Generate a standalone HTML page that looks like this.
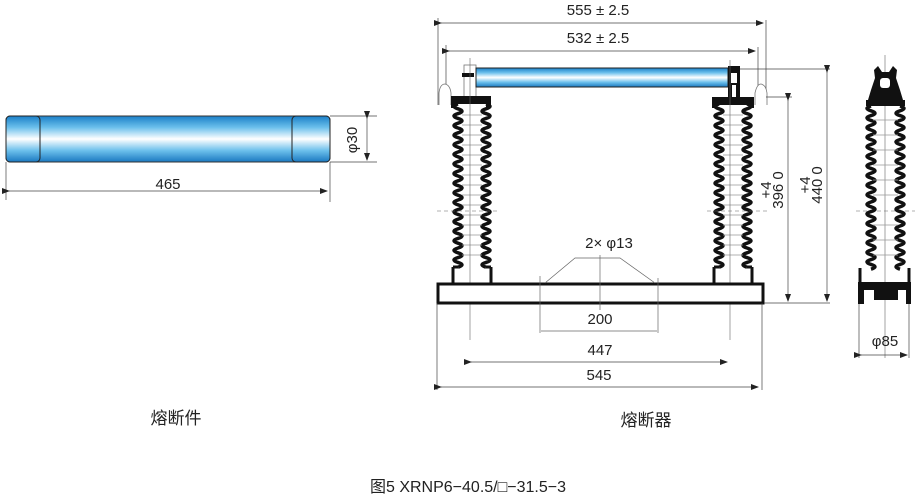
<!DOCTYPE html>
<html><head><meta charset="utf-8"><style>
html,body{margin:0;padding:0;background:#fff}
svg{display:block}
text{font-family:"Liberation Sans","Noto Sans CJK SC",sans-serif;fill:#222}
</style></head><body>
<svg width="917" height="498" viewBox="0 0 917 498" xmlns="http://www.w3.org/2000/svg">
<defs>
<linearGradient id="g" x1="0" y1="0" x2="0" y2="1">
<stop offset="0" stop-color="#1a7fc8"/><stop offset="0.25" stop-color="#6cc0ec"/><stop offset="0.5" stop-color="#ffffff"/><stop offset="0.75" stop-color="#6cc0ec"/><stop offset="1" stop-color="#1a78c0"/>
</linearGradient>
<marker id="a" markerWidth="8" markerHeight="6" refX="7" refY="3" orient="auto" markerUnits="userSpaceOnUse"><path d="M0,0 L8,3 L0,6z" fill="#222"/></marker>
<path id="wv" d="M0 0 q-8 2.4 0 4.8q8 2.4 0 4.8q-8 2.4 0 4.8q8 2.4 0 4.8q-8 2.4 0 4.8q8 2.4 0 4.8q-8 2.4 0 4.8q8 2.4 0 4.8q-8 2.4 0 4.8q8 2.4 0 4.8q-8 2.4 0 4.8q8 2.4 0 4.8q-8 2.4 0 4.8q8 2.4 0 4.8q-8 2.4 0 4.8q8 2.4 0 4.8q-8 2.4 0 4.8q8 2.4 0 4.8q-8 2.4 0 4.8q8 2.4 0 4.8q-8 2.4 0 4.8q8 2.4 0 4.8q-8 2.4 0 4.8q8 2.4 0 4.8q-8 2.4 0 4.8q8 2.4 0 4.8q-8 2.4 0 4.8q8 2.4 0 4.8q-8 2.4 0 4.8q8 2.4 0 4.8q-8 2.4 0 4.8q8 2.4 0 4.8q-8 2.4 0 4.8q8 2.4 0 4.8" fill="none" stroke="#111" stroke-width="3.5"/>
<g id="ins">
<use href="#wv" transform="translate(-14,104)"/>
<use href="#wv" transform="translate(14,104) scale(-1,1)"/>
<g stroke="#999" stroke-width="0.7">
<line x1="-10" y1="115" x2="10" y2="115"/><line x1="-10" y1="125" x2="10" y2="125"/><line x1="-10" y1="135" x2="10" y2="135"/><line x1="-10" y1="145" x2="10" y2="145"/><line x1="-10" y1="155" x2="10" y2="155"/><line x1="-10" y1="165" x2="10" y2="165"/><line x1="-10" y1="175" x2="10" y2="175"/><line x1="-10" y1="185" x2="10" y2="185"/><line x1="-10" y1="195" x2="10" y2="195"/><line x1="-10" y1="205" x2="10" y2="205"/><line x1="-10" y1="215" x2="10" y2="215"/><line x1="-10" y1="225" x2="10" y2="225"/><line x1="-10" y1="235" x2="10" y2="235"/><line x1="-10" y1="245" x2="10" y2="245"/><line x1="-10" y1="255" x2="10" y2="255"/>
</g>
<path d="M-19 267 L-19 284 M19 267 L19 284 M-19 267 L-14 267 M19 267 L14 267" stroke="#111" stroke-width="3" fill="none"/>
</g>
</defs>

<rect x="6" y="116" width="324" height="46" rx="4" fill="url(#g)" stroke="#333" stroke-width="1"/>
<rect x="6" y="116" width="34" height="46" rx="4" fill="url(#g)" stroke="#222" stroke-width="1"/>
<rect x="292" y="116" width="38" height="46" rx="4" fill="url(#g)" stroke="#222" stroke-width="1"/>
<g stroke="#444" stroke-width="0.7" fill="none">
<line x1="6" y1="162" x2="6" y2="200"/><line x1="330" y1="162" x2="330" y2="202"/>
<line x1="9" y1="191" x2="327" y2="191" marker-start="url(#a)" marker-end="url(#a)"/>
<line x1="330" y1="116" x2="377" y2="116"/><line x1="330" y1="162" x2="377" y2="162"/>
<line x1="367" y1="118" x2="367" y2="160" marker-start="url(#a)" marker-end="url(#a)"/>
</g>
<text x="168" y="189" font-size="15" text-anchor="middle">465</text>
<text transform="translate(357,140) rotate(-90)" font-size="15" text-anchor="middle">φ30</text>

<g stroke="#444" stroke-width="0.7" fill="none">
<line x1="438" y1="18" x2="438" y2="105"/><line x1="766" y1="20" x2="766" y2="105"/>
<line x1="441" y1="23" x2="763" y2="23" marker-start="url(#a)" marker-end="url(#a)"/>
<line x1="446" y1="45" x2="446" y2="100"/><line x1="758" y1="47" x2="758" y2="90"/>
<line x1="449" y1="51" x2="755" y2="51" marker-start="url(#a)" marker-end="url(#a)"/>
</g>
<text x="598" y="15" font-size="15" text-anchor="middle">555 ± 2.5</text>
<text x="598" y="43" font-size="15" text-anchor="middle">532 ± 2.5</text>

<g stroke="#777" stroke-width="0.8" fill="#fff">
<path d="M439 105 L439 93 Q440 84 445 84 Q450 85 451 93 L451 105"/>
<path d="M755 105 L755 93 Q757 84 761 84 Q766 85 767 93 L767 105"/>
<rect x="464" y="65" width="12" height="32"/>
</g>
<rect x="476" y="68" width="252" height="19" fill="url(#g)" stroke="#222" stroke-width="1"/>
<rect x="462" y="73" width="12" height="4" fill="#111"/>
<rect x="728" y="66" width="12" height="32" fill="#111"/><rect x="731" y="73" width="6" height="10" fill="#fff"/>
<rect x="732" y="85" width="4" height="12" fill="#fff"/>

<path d="M451 96 L491 96 L491 108 L486 108 L486 104 L456 104 L456 108 L451 108 Z" fill="#111"/>
<path d="M712 97 L754 97 L754 108 L749 108 L749 105 L717 105 L717 108 L712 108 Z" fill="#111"/>
<use href="#ins" transform="translate(472,0)"/>
<use href="#ins" transform="translate(733,0)"/>
<g stroke="#666" stroke-width="0.6">
<line x1="470" y1="58" x2="470" y2="340"/><line x1="730" y1="60" x2="730" y2="340"/>
<line x1="437" y1="211" x2="497" y2="211" stroke-dasharray="4 3"/><line x1="707" y1="211" x2="768" y2="211" stroke-dasharray="4 3"/>
<line x1="856" y1="211" x2="915" y2="211" stroke-dasharray="4 3"/>
<line x1="885" y1="55" x2="885" y2="358"/>
</g>
<rect x="438" y="284" width="325" height="19" fill="#fff" stroke="#111" stroke-width="3"/>
<g stroke="#666" stroke-width="0.7" fill="none">
<path d="M545 283 L575 258 L620 258 L655 283"/>
<line x1="600" y1="255" x2="600" y2="310"/>
<line x1="540" y1="276" x2="540" y2="333"/><line x1="658" y1="278" x2="658" y2="333"/>
<line x1="541" y1="331" x2="657" y2="331"/>
</g>
<text x="609" y="248" font-size="15" text-anchor="middle">2× φ13</text>
<text x="600" y="324" font-size="15" text-anchor="middle">200</text>
<g stroke="#444" stroke-width="0.7" fill="none">
<line x1="471" y1="362" x2="727" y2="362" marker-start="url(#a)" marker-end="url(#a)"/>
<line x1="437" y1="303" x2="437" y2="390"/><line x1="762" y1="303" x2="762" y2="390"/>
<line x1="441" y1="387" x2="758" y2="387" marker-start="url(#a)" marker-end="url(#a)"/>
</g>
<text x="600" y="355" font-size="15" text-anchor="middle">447</text>
<text x="599" y="380" font-size="15" text-anchor="middle">545</text>

<g stroke="#444" stroke-width="0.7" fill="none">
<line x1="766" y1="97" x2="792" y2="97"/><line x1="740" y1="69" x2="830" y2="69"/>
<line x1="764" y1="303" x2="830" y2="303"/>
<line x1="788" y1="100" x2="788" y2="301" marker-start="url(#a)" marker-end="url(#a)"/>
<line x1="827" y1="72" x2="827" y2="301" marker-start="url(#a)" marker-end="url(#a)"/>
</g>
<text transform="translate(771,190) rotate(-90)" font-size="15" text-anchor="middle">+4</text>
<text transform="translate(783,190) rotate(-90)" font-size="15" text-anchor="middle">396 0</text>
<text transform="translate(810,185) rotate(-90)" font-size="15" text-anchor="middle">+4</text>
<text transform="translate(822,185) rotate(-90)" font-size="15" text-anchor="middle">440 0</text>

<path d="M874 70 L878 66 L882 72 L889 72 L893 66 L897 70 L896 78 L900 90 L903 100 L868 100 L871 90 L875 78 Z" fill="#111"/>
<rect x="880" y="78" width="10" height="10" fill="#fff" rx="3"/>
<path d="M866 100 L905 100 L905 106 L866 106 Z" fill="#111"/>
<use href="#wv" transform="translate(871,106)"/>
<use href="#wv" transform="translate(900,106) scale(-1,1)"/>
<g stroke="#999" stroke-width="0.7">
<line x1="873" y1="120" x2="898" y2="120"/><line x1="873" y1="135" x2="898" y2="135"/><line x1="873" y1="150" x2="898" y2="150"/><line x1="873" y1="165" x2="898" y2="165"/><line x1="873" y1="180" x2="898" y2="180"/><line x1="873" y1="195" x2="898" y2="195"/><line x1="873" y1="225" x2="898" y2="225"/><line x1="873" y1="240" x2="898" y2="240"/><line x1="873" y1="255" x2="898" y2="255"/>
</g>
<path d="M860 268 L860 283 M909 268 L909 283" stroke="#111" stroke-width="3"/>
<path d="M858 282 L911 282 L911 304 L906 304 L906 290 L898 290 L898 300 L874 300 L874 290 L864 290 L864 304 L858 304 Z" fill="#111"/>
<g stroke="#444" stroke-width="0.7" fill="none">
<line x1="859" y1="304" x2="859" y2="358"/><line x1="909" y1="304" x2="909" y2="358"/>
<line x1="861" y1="355" x2="907" y2="355" marker-start="url(#a)" marker-end="url(#a)"/>
</g>
<text x="885" y="346" font-size="15" text-anchor="middle">φ85</text>

<text x="176" y="424" font-size="17" text-anchor="middle">熔断件</text>
<text x="646" y="426" font-size="17" text-anchor="middle">熔断器</text>
<text x="468" y="492" font-size="16" text-anchor="middle">图5 XRNP6−40.5/□−31.5−3</text>
</svg>
</body></html>
